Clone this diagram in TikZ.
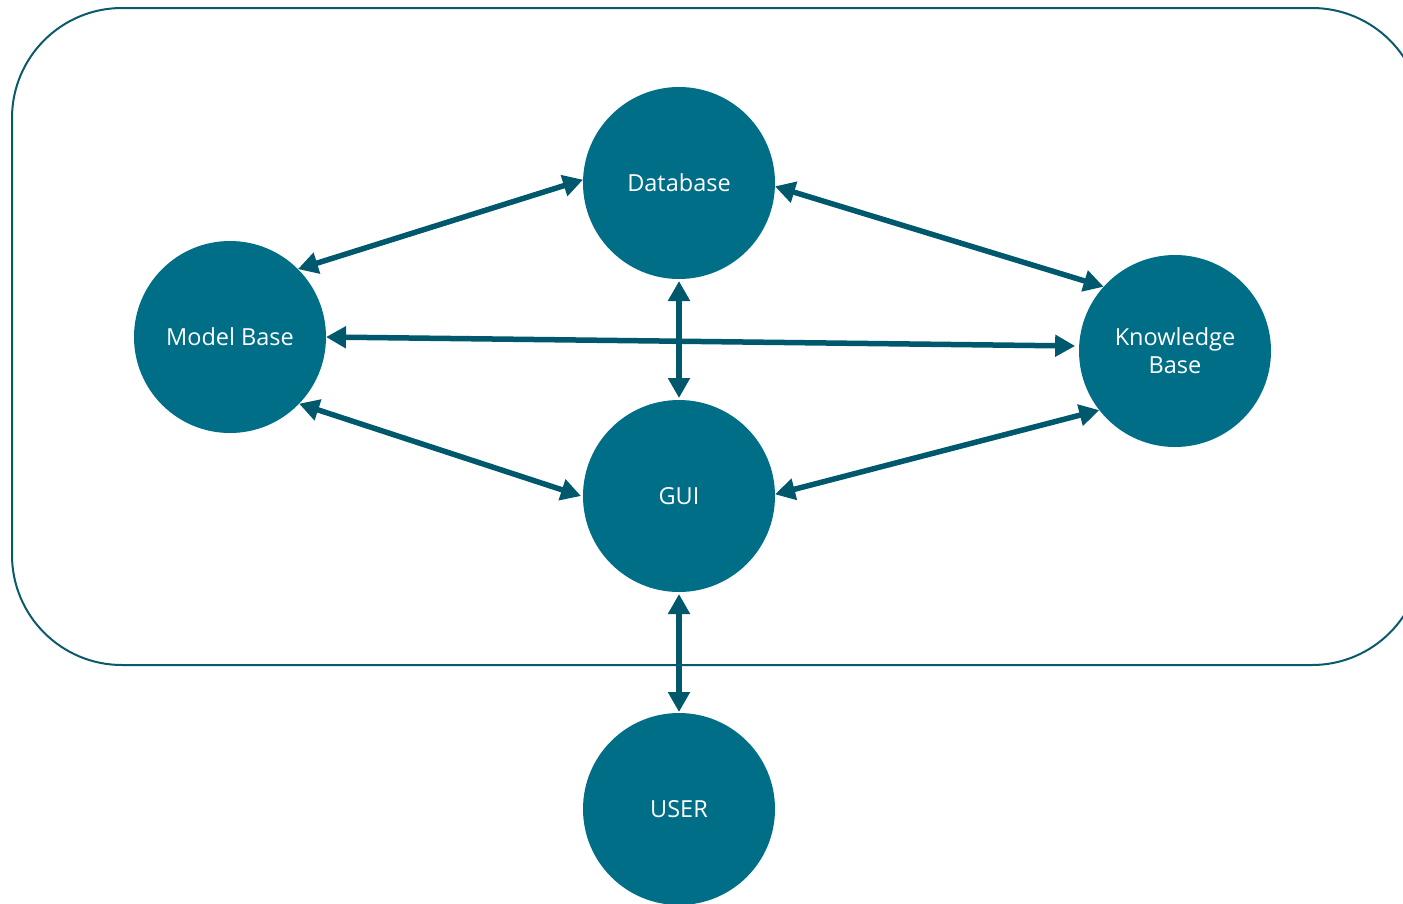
\documentclass[tikz,border=0pt]{standalone}
\usepackage{fontspec}
\setmainfont{Open Sans}
\usetikzlibrary{arrows.meta}
\definecolor{circfill}{RGB}{0,110,135}
\definecolor{arrowcol}{RGB}{0,88,108}
\definecolor{framecol}{RGB}{10,90,108}
\tikzset{
  unit/.style={circle, fill=circfill, minimum size=192pt, inner sep=0pt, outer sep=0pt,
    text=white, font=\fontsize{23.5}{28}\selectfont, align=center},
  link/.style={arrowcol, line width=5.5pt, {Triangle[length=20pt,width=21pt]}-{Triangle[length=20pt,width=21pt]}},
  frame/.style={framecol, line width=2pt, rounded corners=110pt}
}
\begin{document}
\begin{tikzpicture}[x=1pt,y=-1pt]
\useasboundingbox (0,0) rectangle (1403,903);
\begin{scope}
\clip (0,0) rectangle (1403,903);
\draw[frame] (12,8) rectangle (1422,665);
\node[unit] (db) at (679,183) {Database};
\node[unit] (mb) at (230,337) {Model Base};
\node[unit] (kb) at (1175,351) {Knowledge\\Base};
\node[unit] (gui) at (679,496) {GUI};
\node[unit] (user) at (679,809) {USER};
\draw[link] (mb.45) -- (db.178);
\draw[link] (db.-2) -- (kb.138);
\draw[link] (mb.0) -- ([xshift=-4pt]kb.177);
\draw[link] ([yshift=-2pt]db.-90) -- ([yshift=2pt]gui.90);
\draw[link] (mb.-44) -- ([xshift=-2pt]gui.180);
\draw[link] (gui.1) -- (kb.218);
\draw[link] ([yshift=-2pt]gui.-90) -- ([yshift=1pt]user.90);
\end{scope}
\end{tikzpicture}
\end{document}
